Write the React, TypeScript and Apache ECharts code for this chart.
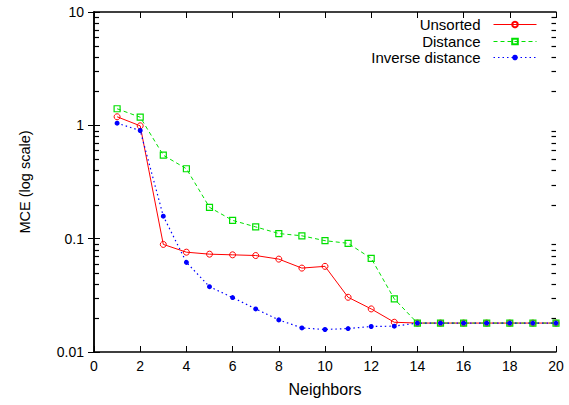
import React, { useEffect, useRef } from "react";
import * as echarts from "echarts";

const neighbors = [1, 2, 3, 4, 5, 6, 7, 8, 9, 10, 11, 12, 13, 14, 15, 16, 17, 18, 19, 20];
const unsorted = [1.19, 0.99, 0.089, 0.076, 0.073, 0.072, 0.071, 0.066, 0.055, 0.057, 0.0304, 0.024, 0.0183, 0.018, 0.018, 0.018, 0.018, 0.018, 0.018, 0.018];
const distance = [1.4, 1.18, 0.545, 0.414, 0.189, 0.145, 0.127, 0.111, 0.106, 0.096, 0.091, 0.067, 0.0294, 0.018, 0.018, 0.018, 0.018, 0.018, 0.018, 0.018];
const inverseDistance = [1.045, 0.9, 0.158, 0.0618, 0.0377, 0.0302, 0.024, 0.0192, 0.0163, 0.0158, 0.0161, 0.0168, 0.0169, 0.018, 0.018, 0.018, 0.018, 0.018, 0.018, 0.018];
const seriesNames = ["Unsorted", "Distance", "Inverse distance"];
const minorTickValues = [
  0.02, 0.03, 0.04, 0.05, 0.06, 0.07, 0.08, 0.09,
  0.2, 0.3, 0.4, 0.5, 0.6, 0.7, 0.8, 0.9,
  2, 3, 4, 5, 6, 7, 8, 9,
];
const xMin = 0;
const xMax = 20;

const FONT = "'Liberation Sans', Arial, Helvetica, sans-serif";

export default function App() {
  const ref = useRef<HTMLDivElement>(null);
  useEffect(() => {
    if (!ref.current) return;
    const chart = echarts.init(ref.current, undefined, { renderer: "svg" });
    const pair = (ys: number[]) => neighbors.map((x, i) => [x, ys[i]]);
    const axisLine = { show: true, lineStyle: { color: "#000", width: 1.5 } };
    const majorTick = { show: true, inside: true, length: 6, lineStyle: { color: "#000", width: 1 } };
    const legendBase = (name: string, top: number) => ({
      data: [name],
      right: 32,
      top,
      orient: "horizontal",
      align: "right",
      padding: 0,
      itemWidth: 43,
      itemHeight: 7,
      selectedMode: false,
      lineStyle: { width: 1 },
      textStyle: { fontFamily: FONT, fontSize: 15, color: "#000", padding: [0, 8, 0, 0] },
    });
    chart.setOption({
      animation: false,
      backgroundColor: "#fff",
      grid: { left: 94, right: 13, top: 12, bottom: 53, containLabel: false },
      legend: [
        legendBase(seriesNames[0], 17),
        legendBase(seriesNames[1], 34),
        legendBase(seriesNames[2], 50),
      ],
      xAxis: [
        {
          type: "value",
          min: xMin,
          max: xMax,
          interval: 2,
          position: "bottom",
          name: "Neighbors",
          nameLocation: "middle",
          nameGap: 29,
          nameTextStyle: { fontFamily: FONT, fontSize: 16, color: "#000" },
          axisLine,
          axisTick: majorTick,
          axisLabel: { fontFamily: FONT, fontSize: 14, color: "#000", margin: 7 },
          splitLine: { show: false },
        },
        {
          type: "value",
          min: xMin,
          max: xMax,
          interval: 2,
          position: "top",
          axisLine,
          axisTick: majorTick,
          axisLabel: { show: false },
          splitLine: { show: false },
        },
      ],
      yAxis: [
        {
          type: "log",
          logBase: 10,
          min: 0.01,
          max: 10,
          position: "left",
          name: "MCE (log scale)",
          nameLocation: "middle",
          nameGap: 62,
          nameRotate: 90,
          nameTextStyle: { fontFamily: FONT, fontSize: 14.5, color: "#000" },
          axisLine,
          axisTick: majorTick,
          axisLabel: { fontFamily: FONT, fontSize: 14, color: "#000", margin: 10, formatter: (v: number) => String(v) },
          splitLine: { show: false },
        },
        {
          type: "log",
          logBase: 10,
          min: 0.01,
          max: 10,
          position: "right",
          axisLine,
          axisTick: majorTick,
          axisLabel: { show: false },
          splitLine: { show: false },
        },
      ],
      series: [
        {
          type: "custom",
          silent: true,
          clip: false,
          xAxisIndex: 0,
          yAxisIndex: 0,
          data: minorTickValues.map((v) => [xMax, v]),
          encode: { x: 0, y: 1 },
          z: 10,
          renderItem: (params: any, api: any) => {
            const p = api.coord([api.value(0), api.value(1)]);
            const cs = params.coordSys;
            const left = cs.x;
            const right = cs.x + cs.width;
            const y = Math.round(p[1]) + 0.5;
            const style = { stroke: "#000", lineWidth: 1.2 };
            return {
              type: "group",
              children: [
                { type: "line", shape: { x1: left, y1: y, x2: left + 5, y2: y }, style },
                { type: "line", shape: { x1: right, y1: y, x2: right - 4.5, y2: y }, style },
              ],
            };
          },
        },
        {
          name: seriesNames[0],
          type: "line",
          data: pair(unsorted),
          symbol: "circle",
          symbolSize: 6,
          lineStyle: { color: "#ff0000", width: 1, type: "solid" },
          itemStyle: { color: "rgba(255,255,255,0)", borderColor: "#ff0000", borderWidth: 1 },
          z: 2,
        },
        {
          name: seriesNames[1],
          type: "line",
          data: pair(distance),
          symbol: "rect",
          symbolSize: 6,
          lineStyle: { color: "#00e000", width: 1, type: [4, 3] },
          itemStyle: { color: "rgba(255,255,255,0)", borderColor: "#00e000", borderWidth: 1.2 },
          z: 3,
        },
        {
          name: seriesNames[2],
          type: "line",
          data: pair(inverseDistance),
          symbol: "circle",
          symbolSize: 5,
          lineStyle: { color: "#0000ff", width: 1.2, type: [1.5, 3] },
          itemStyle: { color: "#0000ff", borderWidth: 0 },
          z: 4,
        },
      ],
    });
    return () => chart.dispose();
  }, []);
  return <div ref={ref} style={{ width: 569, height: 405, position: "absolute", left: 0, top: 0 }} />;
}
